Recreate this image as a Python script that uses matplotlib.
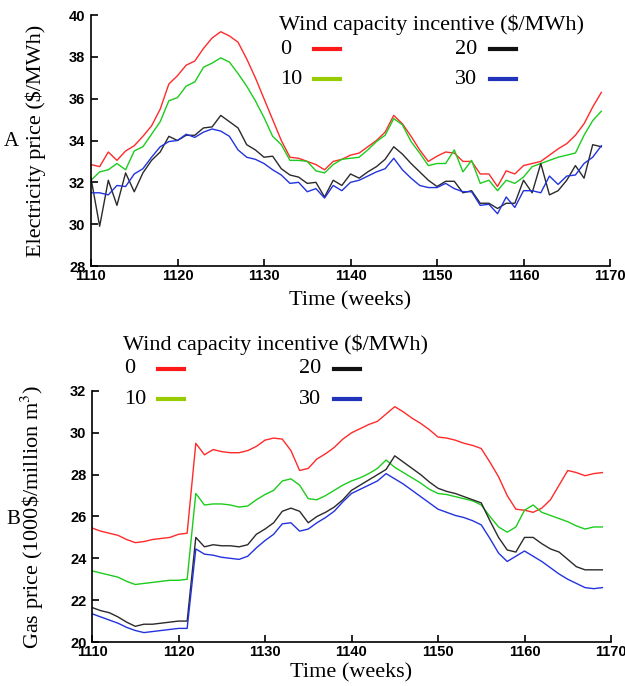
import matplotlib
matplotlib.use("Agg")
import matplotlib.pyplot as plt
from matplotlib.lines import Line2D
import numpy as np

#weeks on x axis
weeks = np.arange(1110, 1170)

#incentive levels ($/MWh)
incentives = ["0", "10", "20", "30"]

#electricity price, panel A
elec_0 = [32.85, 32.75, 33.45, 33.05, 33.5, 33.75, 34.2, 34.7, 35.5, 36.7,
          37.1, 37.6, 37.8, 38.4, 38.9, 39.2, 39.0, 38.7, 37.9, 37.0,
          36.0, 35.0, 34.0, 33.2, 33.15, 33.0, 32.85, 32.6, 33.0, 33.1,
          33.3, 33.4, 33.7, 34.0, 34.4, 35.2, 34.8, 34.2, 33.55, 33.0,
          33.25, 33.45, 33.4, 33.0, 33.0, 32.4, 32.4, 31.8, 32.55, 32.4,
          32.8, 32.9, 33.0, 33.3, 33.6, 33.85, 34.25, 34.8, 35.6, 36.3]
elec_10 = [32.1, 32.5, 32.6, 32.9, 32.6, 33.5, 33.7, 34.3, 34.9, 35.9,
           36.05, 36.6, 36.8, 37.5, 37.7, 37.95, 37.75, 37.2, 36.6, 35.9,
           35.1, 34.2, 33.8, 33.05, 33.05, 33.0, 32.55, 32.45, 32.85, 33.1,
           33.15, 33.2, 33.55, 33.95, 34.25, 35.05, 34.75, 33.95, 33.4, 32.8,
           32.9, 32.9, 33.55, 32.5, 33.05, 31.95, 32.1, 31.6, 32.1, 31.95,
           32.25, 32.75, 32.9, 33.05, 33.2, 33.3, 33.4, 34.25, 34.95, 35.4]
elec_20 = [32.2, 29.9, 32.1, 30.9, 32.45, 31.55, 32.45, 33.05, 33.45, 34.2,
           34.0, 34.25, 34.25, 34.6, 34.65, 35.2, 34.9, 34.6, 33.8, 33.55,
           33.2, 33.25, 32.65, 32.35, 32.25, 31.95, 32.0, 31.3, 32.1, 31.85,
           32.4, 32.2, 32.5, 32.75, 33.1, 33.7, 33.35, 32.9, 32.5, 32.1,
           31.8, 32.05, 32.05, 31.5, 31.6, 31.0, 31.0, 30.75, 31.0, 31.0,
           32.1, 31.5, 32.9, 31.4, 31.6, 32.1, 32.8, 32.2, 33.8, 33.7]
elec_30 = [31.5, 31.5, 31.4, 31.85, 31.8, 32.4, 32.65, 33.2, 33.7, 33.95,
           34.0, 34.3, 34.15, 34.4, 34.55, 34.45, 34.2, 33.55, 33.2, 33.1,
           32.9, 32.6, 32.35, 31.95, 32.0, 31.55, 31.7, 31.25, 31.85, 31.6,
           32.0, 32.1, 32.3, 32.5, 32.65, 33.15, 32.6, 32.2, 31.85, 31.75,
           31.75, 31.95, 31.7, 31.55, 31.55, 30.9, 30.95, 30.5, 31.3, 30.8,
           31.6, 31.6, 31.5, 32.3, 31.9, 32.3, 32.35, 32.9, 33.2, 33.75]

#gas price, panel B
gas_0 = [25.45, 25.3, 25.2, 25.1, 24.9, 24.75, 24.8, 24.9, 24.95, 25.0,
         25.15, 25.2, 29.5, 28.95, 29.2, 29.1, 29.05, 29.05, 29.15, 29.35,
         29.65, 29.75, 29.7, 29.15, 28.2, 28.3, 28.75, 29.0, 29.3, 29.7,
         30.0, 30.2, 30.4, 30.55, 30.9, 31.25, 31.0, 30.7, 30.45, 30.15,
         29.8, 29.75, 29.65, 29.5, 29.4, 29.25, 28.6, 27.9, 27.0, 26.35,
         26.3, 26.2, 26.4, 26.8, 27.5, 28.2, 28.1, 27.95, 28.05, 28.1]
gas_10 = [23.4, 23.3, 23.2, 23.1, 22.9, 22.75, 22.8, 22.85, 22.9, 22.95,
          22.95, 23.0, 27.1, 26.55, 26.6, 26.6, 26.55, 26.45, 26.5, 26.8,
          27.05, 27.25, 27.7, 27.8, 27.5, 26.85, 26.8, 27.0, 27.25, 27.5,
          27.7, 27.85, 28.05, 28.3, 28.7, 28.35, 28.1, 27.85, 27.6, 27.3,
          27.1, 27.05, 26.95, 26.85, 26.75, 26.55, 26.0, 25.5, 25.25, 25.5,
          26.3, 26.55, 26.2, 26.05, 25.9, 25.75, 25.55, 25.4, 25.5, 25.5]
gas_20 = [21.65, 21.5, 21.4, 21.2, 20.95, 20.75, 20.85, 20.85, 20.9, 20.95,
          21.0, 21.0, 25.0, 24.55, 24.65, 24.6, 24.6, 24.55, 24.65, 25.15,
          25.4, 25.7, 26.25, 26.4, 26.25, 25.7, 26.0, 26.2, 26.45, 26.8,
          27.25, 27.5, 27.75, 28.0, 28.25, 28.9, 28.6, 28.3, 28.0, 27.65,
          27.35, 27.2, 27.1, 26.95, 26.8, 26.65, 25.8, 25.0, 24.4, 24.3,
          25.0, 25.0, 24.7, 24.45, 24.3, 23.95, 23.6, 23.45, 23.45, 23.45]
gas_30 = [21.35, 21.2, 21.05, 20.9, 20.7, 20.55, 20.45, 20.5, 20.55, 20.6,
          20.65, 20.65, 24.45, 24.2, 24.15, 24.05, 24.0, 23.95, 24.1, 24.5,
          24.85, 25.15, 25.65, 25.7, 25.3, 25.4, 25.7, 25.95, 26.25, 26.7,
          27.1, 27.3, 27.5, 27.7, 28.05, 27.8, 27.55, 27.25, 26.95, 26.65,
          26.35, 26.2, 26.05, 25.95, 25.8, 25.6, 24.95, 24.25, 23.85, 24.1,
          24.35, 24.1, 23.85, 23.55, 23.25, 23.0, 22.8, 22.6, 22.55, 22.6]

#line colors and legend colors (legend green is more yellow)
line_colors = ["#ff2a2a", "#1ccc1c", "#2a2a2a", "#2233dd"]
legend_colors = ["#ff1a1a", "#99cc00", "#111111", "#2233bb"]

serif = "Liberation Serif"
plt.rcParams["mathtext.fontset"] = "stix"

W, H = 625, 686
fig = plt.figure(figsize=(W / 100, H / 100), dpi=100)


#pixel (from top-left) to figure fraction
def fx(x):
    return x / W


def fy(y):
    return 1 - y / H


def style_axes(ax, ymin, ymax, xpad):
    ax.set_xlim(1110, 1170)
    ax.set_ylim(ymin, ymax)
    ax.set_xticks(np.arange(1110, 1171, 10))
    ax.set_yticks(np.arange(ymin, ymax + 1, 2))
    ax.spines["top"].set_visible(False)
    ax.spines["right"].set_visible(False)
    for s in ["left", "bottom"]:
        ax.spines[s].set_linewidth(1.2)
    ax.tick_params(direction="in", length=5, width=1.2)
    ax.tick_params(axis="y", pad=4)
    ax.tick_params(axis="x", pad=2)
    for lab in ax.get_xticklabels() + ax.get_yticklabels():
        lab.set_fontfamily("Liberation Sans")
        lab.set_fontweight("bold")
        lab.set_fontsize(10.5)
    ax.set_xlabel("Time (weeks)", fontfamily=serif, fontsize=16, labelpad=xpad)


#legend drawn by hand so the labels sit left aligned like the original
def add_legend(x, y):
    fig.text(fx(x), fy(y), "Wind capacity incentive (\\$/MWh)",
             fontfamily=serif, fontsize=16, va="center", ha="left")
    for i, (lab, c) in enumerate(zip(incentives, legend_colors)):
        col, row = i // 2, i % 2
        tx = x + 1 + col * 175
        ty = y + 24 + row * 30
        fig.text(fx(tx), fy(ty), lab, fontfamily=serif, fontsize=16,
                 va="center", ha="left")
        lx = x + 35 + col * 176
        fig.add_artist(Line2D([fx(lx), fx(lx + 26)], [fy(ty), fy(ty)],
                              transform=fig.transFigure, color=c, lw=3))


#panel A
axA = fig.add_axes([fx(91), fy(266), 519 / W, 251 / H])
for vals, c in zip([elec_0, elec_10, elec_20, elec_30], line_colors):
    axA.plot(weeks, vals, color=c, lw=1.0)
style_axes(axA, 28, 40, 6)
axA.set_ylabel("Electricity price (\\$/MWh)", fontfamily=serif, fontsize=16)
axA.yaxis.set_label_coords(-0.086, 0.5)
add_legend(279, 25)

#panel B
axB = fig.add_axes([fx(92), fy(642), 519 / W, 251 / H])
for vals, c in zip([gas_0, gas_10, gas_20, gas_30], line_colors):
    axB.plot(weeks, vals, color=c, lw=1.0)
style_axes(axB, 20, 32, 3)
axB.set_ylabel("Gas price (1000\\$/million m$^3$)", fontfamily=serif, fontsize=16)
axB.yaxis.set_label_coords(-0.088, 0.5)
add_legend(123, 345)

#panel letters
fig.text(fx(4), fy(141), "A", fontfamily=serif, fontsize=15, va="center")
fig.text(fx(6), fy(520), "B", fontfamily=serif, fontsize=15, va="center")

fig.savefig("out.png", dpi=100)
